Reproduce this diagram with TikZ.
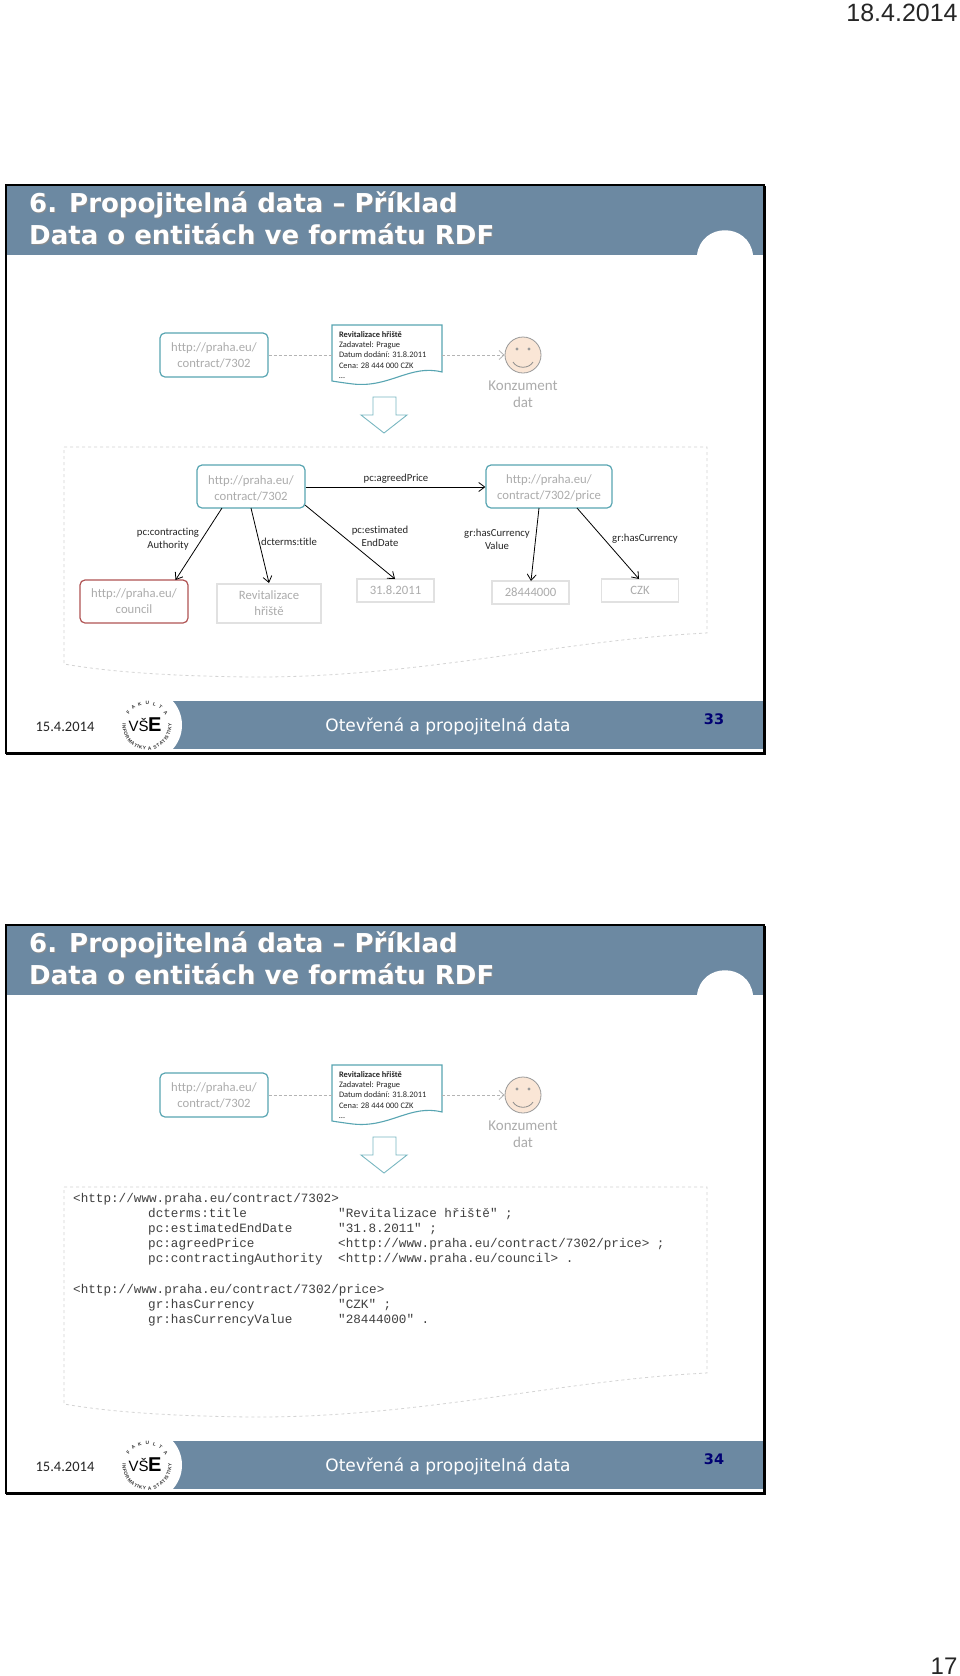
\documentclass[tikz,border=0pt]{standalone}
\usepackage{fontspec}
\setmainfont{Carlito}[Ligatures=NoCommon]
\newfontfamily\djv{DejaVu Sans}
\newfontfamily\lib{Liberation Sans}
\newfontfamily\mon{Liberation Mono}
\usetikzlibrary{arrows.meta,decorations.text}
\definecolor{barblue}{RGB}{108,137,162}
\definecolor{tealb}{RGB}{88,165,178}
\definecolor{redb}{RGB}{176,84,84}
\definecolor{greyt}{RGB}{172,172,172}
\definecolor{lightb}{RGB}{225,225,225}
\definecolor{dashg}{RGB}{212,212,212}
\definecolor{facef}{RGB}{250,230,214}
\tikzset{
  x=1pt,y=-1pt,
  uri/.style={draw=tealb,line width=1.2pt,rounded corners=5pt,inner sep=0pt,align=center,text=greyt,font=\fontsize{12.7}{16}\selectfont},
  redbox/.style={uri,draw=redb},
  lit/.style={draw=lightb,line width=1.2pt,inner sep=0pt,align=center,text=greyt,font=\fontsize{12.7}{16}\selectfont},
  lab/.style={inner sep=0pt,align=center,text=black!85,font=\fontsize{10.7}{13}\selectfont},
  rel/.style={black,line width=0.8pt,-{Straight Barb[length=6pt,width=9pt]}},
  flow/.style={dashg!85!black,densely dashed,line width=0.8pt},
  dashframe/.style={dashg,dashed,line width=0.8pt},
  rdf/.style={inner sep=0pt,anchor=base west,font=\mon\fontsize{12.65}{15}\selectfont,text=black!75},
  titlet/.style={inner sep=0pt,anchor=base west,font=\djv\bfseries\fontsize{26}{30}\selectfont},
}
\newcommand{\slideframe}[1]{%
  \fill[barblue] (6,185) rectangle (764,255);
  \fill[white] (697,255) .. controls (701,222) and (749,222) .. (753,255) -- cycle;
  \fill[barblue] (160,701) rectangle (764,749);
  \fill[white] (146,725) circle[radius=36pt];
  \node[titlet,text=black!45] (tsa) at (30,213) {6. Propojitelná data – Příklad};
  \node[titlet,text=black!45] (tsb) at (30,245) {Data o entitách ve formátu RDF};
  \node[titlet,text=white] (ta) at (29,212) {6. Propojitelná data – Příklad};
  \node[titlet,text=white] (tb) at (29,244) {Data o entitách ve formátu RDF};
  \node[inner sep=0pt,font=\fontsize{14.5}{15}\selectfont,text=black!85] (date) at (65,727) {15.4.2014};
  \node[inner sep=0pt,font=\djv\fontsize{17}{20}\selectfont,text=white] (foot) at (448,726) {Otevřená a propojitelná data};
  \node[inner sep=0pt,font=\djv\bfseries\fontsize{14.5}{16}\selectfont,text=blue!45!black] (pg) at (714,719) {#1};
  \node[inner sep=0pt,text=black] (vse) at (145,725) {\lib\fontsize{15}{20}\selectfont VŠ\kern-0.5pt\bfseries\fontsize{20}{20}\selectfont E};
  \begin{scope}[shift={(147,725.5)},x=1pt,y=1pt]
    \path[postaction={decorate,decoration={text along path,text align=fit to path,
      text={|\lib\bfseries\fontsize{4.8}{5}\selectfont\color{black!80}|FAKULTA}}}]
      (150:21) arc[start angle=150,end angle=30,radius=21pt];
    \path[postaction={decorate,decoration={text along path,text align=fit to path,
      text={|\lib\bfseries\fontsize{4.8}{5}\selectfont\color{black!80}|INFORMATIKY A STATISTIKY}}}]
      (175:24.5) arc[start angle=175,end angle=365,radius=24.5pt];
  \end{scope}
  \draw[black,line width=2pt] (6,185) rectangle (764,753);
  \draw[black,line width=1pt] (6,754) -- (765,754) -- (765,186);
  % top flow
  \draw[tealb,line width=1.1pt,fill=white] (332,325) -- (442,325) -- (442,372)
    .. controls (410,364) and (390,388) .. (353,384) .. controls (345,383) and (338,382) .. (332,381) -- cycle;
  \node[uri,minimum width=108pt,minimum height=44pt] (src) at (214,355) {http://praha.eu/\\contract/7302};
  \node[inner sep=0pt,minimum width=110pt,minimum height=46pt,text width=96pt,align=flush left,font=\fontsize{8.4}{10.2}\selectfont,text=black!85] (doc) at (387,355)
    {\textbf{Revitalizace hřiště}\\Zadavatel: Prague\\Datum dodání: 31.8.2011\\Cena: 28 444 000 CZK\\\dots};
  \node[circle,draw=black!40,fill=facef,line width=0.8pt,minimum size=36pt,inner sep=0pt] (face) at (523,355) {};
  \fill[black!40] (517,349) circle[radius=1.6pt] (529,349) circle[radius=1.6pt];
  \draw[black!45,line width=0.8pt] (513,362) .. controls (517,369) and (529,369) .. (533,362);
  \node[inner sep=0pt,align=center,text=greyt,font=\fontsize{15}{17}\selectfont] (cons) at (523,394.5) {Konzument\\dat};
  \draw[flow] (src) -- (doc);
  \draw[flow,-{Straight Barb[length=5pt,width=9pt]}] (doc) -- (face);
  \draw[tealb!80!white,line width=0.9pt,fill=white] (373,397) -- (396,397) -- (396,415) -- (407,415) -- (384,433) -- (361,415) -- (373,415) -- cycle;
  \draw[dashframe] (64,447) -- (707,447) -- (707,633) .. controls (560,640) and (420,678) .. (250,677) .. controls (170,676) and (110,672) .. (64,664) -- cycle;
}
\begin{document}
\begin{tikzpicture}
\useasboundingbox (0,0) rectangle (960,1676);
\fill[white] (0,0) rectangle (960,1676);
\node[inner sep=0pt,font=\lib\fontsize{25}{28}\selectfont,text=black!85] (stamp) at (902,13) {18.4.2014};
\node[inner sep=0pt,font=\lib\fontsize{24}{28}\selectfont,text=black!85] (sheet) at (944,1666) {17};

\begin{scope}[name prefix=a-]
  \slideframe{33}
  \node[uri,minimum width=108pt,minimum height=43pt] (c) at (251,486.5) {\rule{0pt}{13pt}http://praha.eu/\\contract/7302};
  \node[uri,minimum width=126pt,minimum height=43pt] (p) at (549,486.5) {\rule{0pt}{13pt}http://praha.eu/\\contract/7302/price};
  \node[redbox,minimum width=108pt,minimum height=43pt] (co) at (134,601.5) {http://praha.eu/\\council};
  \node[lit,minimum width=104pt,minimum height=39pt] (ti) at (269,603.5) {Revitalizace\\hřiště};
  \node[lit,minimum width=77pt,minimum height=23pt] (da) at (395.5,590.5) {31.8.2011};
  \node[lit,minimum width=77pt,minimum height=23pt] (va) at (530.5,592.5) {28444000};
  \node[lit,minimum width=77pt,minimum height=23pt] (cz) at (640,590.5) {CZK};
  \coordinate (cs1) at (222,508); \coordinate (cs2) at (251,508); \coordinate (cs3) at (305,505);
  \coordinate (ps1) at (539,508); \coordinate (ps2) at (577,508);
  \coordinate (ce1) at (175.5,580); \coordinate (ce2) at (269,583); \coordinate (ce3) at (395,579);
  \coordinate (pe1) at (531,581); \coordinate (pe2) at (639,579);
  \draw[rel] (c.east |- 0,487) -- (p.west |- 0,487);
  \draw[rel] (cs1) -- (ce1);
  \draw[rel] (cs2) -- (ce2);
  \draw[rel] (cs3) -- (ce3);
  \draw[rel] (ps1) -- (pe1);
  \draw[rel] (ps2) -- (pe2);
  \node[lab] (l1) at (396,479) {pc:agreedPrice};
  \node[lab] (l2) at (168,539.5) {pc:contracting\\Authority};
  \node[lab] (l3) at (289,542) {dcterms:title};
  \node[lab] (l4) at (380,536) {pc:estimated\\EndDate};
  \node[lab] (l5) at (497,539.5) {gr:hasCurrency\\Value};
  \node[lab] (l6) at (645,539) {gr:hasCurrency};
\end{scope}

\begin{scope}[yshift=-740pt,name prefix=b-]
  \slideframe{34}
  \node[rdf] (r1) at (73,462) {<http://www.praha.eu/contract/7302>};
  \node[rdf] (r2) at (148,477) {dcterms:title};
  \node[rdf] (r3) at (148,492) {pc:estimatedEndDate};
  \node[rdf] (r4) at (148,507) {pc:agreedPrice};
  \node[rdf] (r5) at (148,522.5) {pc:contractingAuthority};
  \node[rdf] (v2) at (338,477) {"Revitalizace hřiště" ;};
  \node[rdf] (v3) at (338,492) {"31.8.2011" ;};
  \node[rdf] (v4) at (338,507) {<http://www.praha.eu/contract/7302/price> ;};
  \node[rdf] (v5) at (338,522.5) {<http://www.praha.eu/council> .};
  \node[rdf] (r6) at (73,553) {<http://www.praha.eu/contract/7302/price>};
  \node[rdf] (r7) at (148,568) {gr:hasCurrency};
  \node[rdf] (r8) at (148,583) {gr:hasCurrencyValue};
  \node[rdf] (v7) at (338,568) {"CZK" ;};
  \node[rdf] (v8) at (338,583) {"28444000" .};
\end{scope}
\end{tikzpicture}
\end{document}
